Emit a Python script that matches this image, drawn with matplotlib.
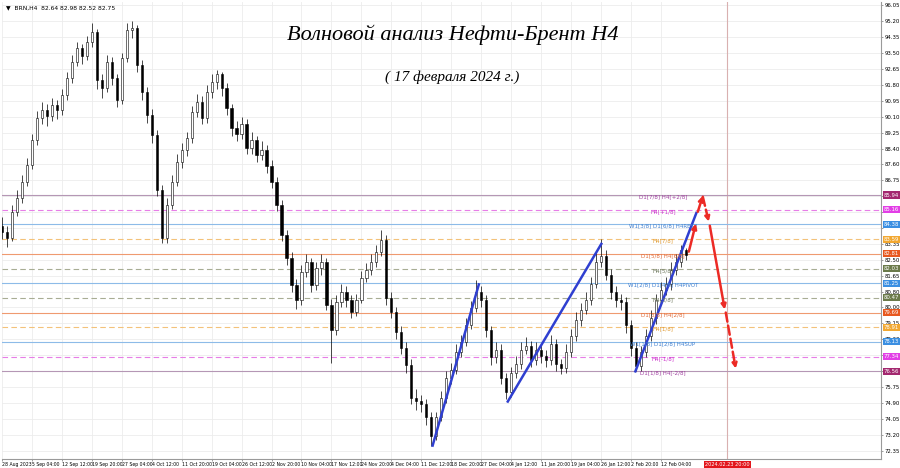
"""Wave analysis chart for Brent H4 (MetaTrader style)."""
import numpy as np
import matplotlib.pyplot as plt
from matplotlib.transforms import blended_transform_factory

# candle data, one candle per column of the picture
first_open = 84.30
closes = [83.99, 83.67, 85.05, 85.80, 86.65, 87.55, 88.88, 90.05, 90.47, 90.15,
          90.74, 90.47, 91.27, 92.17, 93.02, 93.77, 93.34, 94.09, 94.62, 92.07,
          91.64, 93.02, 92.17, 91.00, 93.23, 94.72, 94.83, 92.86, 91.43, 90.21,
          89.14, 86.22, 83.67, 85.42, 86.65, 87.71, 88.35, 88.98, 90.37, 90.90,
          90.05, 91.43, 91.96, 92.38, 91.64, 90.58, 89.52, 89.20, 89.73, 88.45,
          88.88, 88.08, 88.35, 87.50, 86.65, 85.42, 83.83, 82.61, 81.17, 80.38,
          81.87, 82.40, 81.17, 82.08, 82.40, 80.11, 78.78, 80.27, 80.80, 80.38,
          79.74, 80.38, 81.55, 81.97, 82.40, 82.93, 83.57, 80.48, 79.74, 78.68,
          77.83, 76.92, 75.17, 74.96, 74.80, 74.11, 73.15, 74.11, 75.17, 76.23,
          76.66, 77.61, 78.15, 79.05, 79.95, 80.80, 80.38, 78.78, 77.30, 77.72,
          76.23, 75.49, 76.45, 76.98, 77.72, 77.93, 77.19, 77.72, 77.40, 77.19,
          78.04, 76.98, 76.76, 77.61, 78.46, 79.31, 79.85, 80.38, 81.23, 82.40,
          82.72, 81.71, 80.80, 80.38, 80.27, 79.05, 77.83, 76.87, 77.61, 78.46,
          79.42, 80.38, 80.91, 81.23, 81.97, 82.40, 83.03, 82.75]
highs = [84.75, 84.30, 85.40, 86.20, 87.00, 87.90, 89.20, 90.40, 90.90, 90.80,
         91.10, 91.00, 91.60, 92.50, 93.40, 94.10, 94.00, 94.40, 95.10, 94.80,
         92.40, 93.40, 93.30, 92.40, 93.50, 95.10, 95.20, 95.00, 93.10, 91.70,
         90.50, 89.40, 86.50, 85.80, 87.00, 88.10, 88.70, 89.30, 90.70, 91.30,
         91.20, 91.80, 92.40, 92.60, 92.50, 91.90, 90.80, 89.90, 90.10, 90.00,
         89.30, 89.10, 88.80, 88.60, 87.80, 86.90, 85.70, 84.10, 82.90, 81.50,
         82.20, 82.80, 82.60, 82.40, 82.80, 82.60, 80.40, 80.60, 81.20, 81.10,
         80.60, 80.70, 81.90, 82.30, 82.80, 83.30, 84.10, 83.80, 80.80, 80.00,
         79.00, 78.10, 77.20, 75.60, 75.30, 75.10, 74.40, 74.40, 75.50, 76.60,
         77.00, 78.00, 78.50, 79.40, 80.30, 81.40, 81.10, 80.60, 79.00, 78.10,
         78.00, 76.50, 76.80, 77.40, 78.10, 78.40, 78.20, 78.10, 78.00, 77.70,
         78.50, 78.30, 77.20, 78.00, 78.80, 79.70, 80.20, 80.80, 81.60, 82.90,
         83.60, 83.00, 82.00, 81.10, 80.70, 80.50, 79.30, 78.10, 77.90, 78.80,
         79.80, 80.70, 81.30, 81.60, 82.40, 82.80, 83.30, 83.10]
lows = [83.60, 83.20, 83.50, 84.80, 85.50, 86.40, 87.30, 88.60, 89.70, 89.60,
        89.90, 90.00, 90.20, 91.00, 91.90, 92.80, 92.90, 93.10, 93.80, 91.60,
        91.10, 91.40, 91.80, 90.60, 90.80, 93.00, 94.30, 92.50, 91.00, 89.80,
        88.70, 85.90, 83.40, 83.40, 85.20, 86.40, 87.40, 88.00, 88.70, 90.10,
        89.70, 89.80, 91.10, 91.60, 91.20, 90.20, 89.10, 88.80, 88.90, 88.10,
        88.10, 87.70, 87.80, 87.10, 86.30, 85.10, 83.50, 82.20, 80.80, 79.90,
        80.10, 81.60, 80.80, 80.90, 81.70, 79.80, 77.00, 78.50, 80.00, 80.00,
        79.40, 79.50, 80.20, 81.30, 81.70, 82.10, 82.70, 80.10, 79.40, 78.30,
        77.50, 76.50, 74.80, 74.50, 74.40, 73.70, 72.60, 72.90, 73.90, 74.90,
        75.90, 76.40, 77.30, 77.90, 78.80, 79.70, 80.00, 78.40, 76.90, 77.00,
        75.90, 75.10, 75.20, 76.20, 76.70, 77.50, 76.80, 76.90, 77.00, 76.80,
        76.90, 76.60, 76.40, 76.50, 77.30, 78.20, 79.00, 79.60, 80.10, 81.00,
        82.10, 81.40, 80.40, 80.00, 79.80, 78.60, 77.40, 76.60, 76.60, 77.30,
        78.20, 79.10, 80.10, 80.60, 80.90, 81.70, 82.10, 82.50]

date_labels = ["28 Aug 2023", "5 Sep 04:00", "12 Sep 12:00", "19 Sep 20:00",
               "27 Sep 04:00", "4 Oct 12:00", "11 Oct 20:00", "19 Oct 04:00",
               "26 Oct 12:00", "2 Nov 20:00", "10 Nov 04:00", "17 Nov 12:00",
               "24 Nov 20:00", "4 Dec 04:00", "11 Dec 12:00", "18 Dec 20:00",
               "27 Dec 04:00", "4 Jan 12:00", "11 Jan 20:00", "19 Jan 04:00",
               "26 Jan 12:00", "2 Feb 20:00", "12 Feb 04:00"]
future_label = "2024.02.23 20:00"
price_ticks = [96.05, 95.20, 94.35, 93.50, 92.65, 91.80, 90.95, 90.10, 89.25,
               88.40, 87.60, 86.75, 85.90, 85.05, 84.20, 83.35, 82.50, 81.65,
               80.80, 80.00, 79.15, 78.30, 77.45, 76.60, 75.75, 74.90, 74.05,
               73.20, 72.35]
hidden_ticks = [85.90, 85.05, 84.20, 76.60]

# Murrey math levels
level_prices = [85.94, 85.16, 84.38, 83.59, 82.81, 82.03, 81.25, 80.47,
                79.69, 78.91, 78.13, 77.34, 76.56]
level_names = ["D1[7/8] H4[+2/8]", "H4[+1/8]", "W1[3/8] D1[6/8] H4RES2",
               "H4[7/8]", "D1[5/8] H4[6/8]", "H4[5/8]",
               "W1[2/8] D1[4/8] H4PIVOT", "H4[3/8]", "D1[3/8] H4[2/8]",
               "H4[1/8]", "W1[1/8] D1[2/8] H4SUP", "H4[-1/8]",
               "D1[1/8] H4[-2/8]"]
level_kinds = ["d1", "h4m", "w1", "h4o", "d1o", "h4g", "w1", "h4g", "d1o",
               "h4o", "w1", "h4m", "d1"]
kind_style = {  # line colour, line style, box colour, text colour
    "d1": ("#b597b5", "-", "#a3286f", "#a040a0"),
    "h4m": ("#e77ee7", (0, (5, 3)), "#e23ee6", "#cc33cc"),
    "w1": ("#8dbbe8", "-", "#3b8fe2", "#3f7fcf"),
    "h4o": ("#f3c27a", (0, (5, 3)), "#f2a832", "#e09a30"),
    "d1o": ("#ef9a70", "-", "#e8581f", "#e06a38"),
    "h4g": ("#a8ad94", (0, (5, 3)), "#6b7a4a", "#707a60"),
}

# wave lines and forecast arrows: (candle index, price)
wave_lines = [((86.2, 72.55), (95.6, 81.25)),
              ((101.2, 74.90), (120.2, 83.40)),
              ((126.8, 76.50), (139.2, 85.05))]
forecast = [((137.6, 82.93), (139.0, 84.42), "-"),
            ((139.4, 85.05), (140.4, 85.90), "--"),
            ((140.4, 85.85), (141.6, 84.52), "--"),
            ((141.8, 84.31), (144.8, 79.85), "-"),
            ((145.0, 79.69), (147.0, 76.71), "--")]
future_pos = 145.3

fig = plt.figure(figsize=(9, 4.68), dpi=100)
ax = fig.add_axes([2 / 900, 9 / 468, 879 / 900, 457 / 468])
ax.set_xlim(0, 176.1)
ax.set_ylim(71.9, 96.21)

# grid
tick_pos = np.arange(len(date_labels)) * 6
for t in tick_pos:
    ax.axvline(t, color="#ececec", lw=0.6, zorder=0)
for p in price_ticks:
    ax.axhline(p, color="#ececec", lw=0.6, zorder=0)
ax.axvline(future_pos, color="#d9b0b0", lw=0.8, zorder=0.5)

# levels
for price, name, kind in zip(level_prices, level_names, level_kinds):
    lc, ls, bc, tc = kind_style[kind]
    ax.axhline(price, color=lc, lw=0.8, ls=ls, zorder=1)
    ax.text(132.4, price - 0.1, name, color=tc, fontsize=4, ha="center",
            va="center", zorder=6)

# candles
x = np.arange(len(closes))
opens = np.array([first_open] + closes[:-1])
c = np.array(closes)
bottoms = np.minimum(opens, c)
heights = np.maximum(np.abs(c - opens), 0.04)
faces = np.where(c >= opens, "white", "black")
ax.vlines(x, lows, highs, color="black", lw=0.5, zorder=3)
ax.bar(x, heights, bottom=bottoms, width=0.45, color=faces,
       edgecolor="black", linewidth=0.4, zorder=4)

# wave lines
for (x0, y0), (x1, y1) in wave_lines:
    ax.plot([x0, x1], [y0, y1], color="#2f3fd0", lw=1.8, zorder=5,
            solid_capstyle="butt")

# forecast arrows
for (x0, y0), (x1, y1), ls in forecast:
    ax.annotate("", xy=(x1, y1), xytext=(x0, y0), zorder=7,
                arrowprops=dict(arrowstyle="-|>", color="#ec2a25", lw=1.8,
                                ls=ls, mutation_scale=7, shrinkA=0,
                                shrinkB=0))

# axes look
for s in ["top", "left"]:
    ax.spines[s].set_visible(False)
ax.spines["right"].set_color("#9a9a9a")
ax.spines["bottom"].set_color("#9a9a9a")
ax.spines["right"].set_linewidth(0.8)
ax.spines["bottom"].set_linewidth(0.8)
ax.yaxis.tick_right()
ax.set_yticks(price_ticks)
ax.set_yticklabels(["" if p in hidden_ticks else "%.2f" % p
                    for p in price_ticks], fontsize=3.9)
ax.set_xticks(tick_pos)
ax.set_xticklabels(date_labels, fontsize=3.3, ha="left")
ax.tick_params(axis="both", length=1.5, width=0.5, pad=1, color="#777777")

# price boxes on the axis
trans = blended_transform_factory(ax.transAxes, ax.transData)
for price, kind in zip(level_prices, level_kinds):
    bc = kind_style[kind][2]
    ax.text(1.003, price, "%.2f" % price, transform=trans, fontsize=3.9,
            color="white", ha="left", va="center", clip_on=False, zorder=10,
            bbox=dict(boxstyle="square,pad=0.2", fc=bc, ec="none"))
ax.text(future_pos, -0.006, future_label, transform=blended_transform_factory(
        ax.transData, ax.transAxes), fontsize=3.6, color="white", ha="center",
        va="top", clip_on=False, zorder=10,
        bbox=dict(boxstyle="square,pad=0.2", fc="#e3161c", ec="none"))

ax.text(0.004, 0.992, "\u25bc  BRN,H4  82.64 82.98 82.52 82.75",
        transform=ax.transAxes, fontsize=4.3, va="top", ha="left")

ax.text(0.5125, 0.928, "Волновой анализ Нефти-Брент Н4", transform=ax.transAxes,
        fontsize=16, family="Liberation Serif", style="italic", ha="center",
        va="center")
ax.text(0.5125, 0.836, "( 17 февраля 2024 г.)", transform=ax.transAxes,
        fontsize=11, family="Liberation Serif", style="italic", ha="center",
        va="center")

fig.savefig("out.png", dpi=100)
